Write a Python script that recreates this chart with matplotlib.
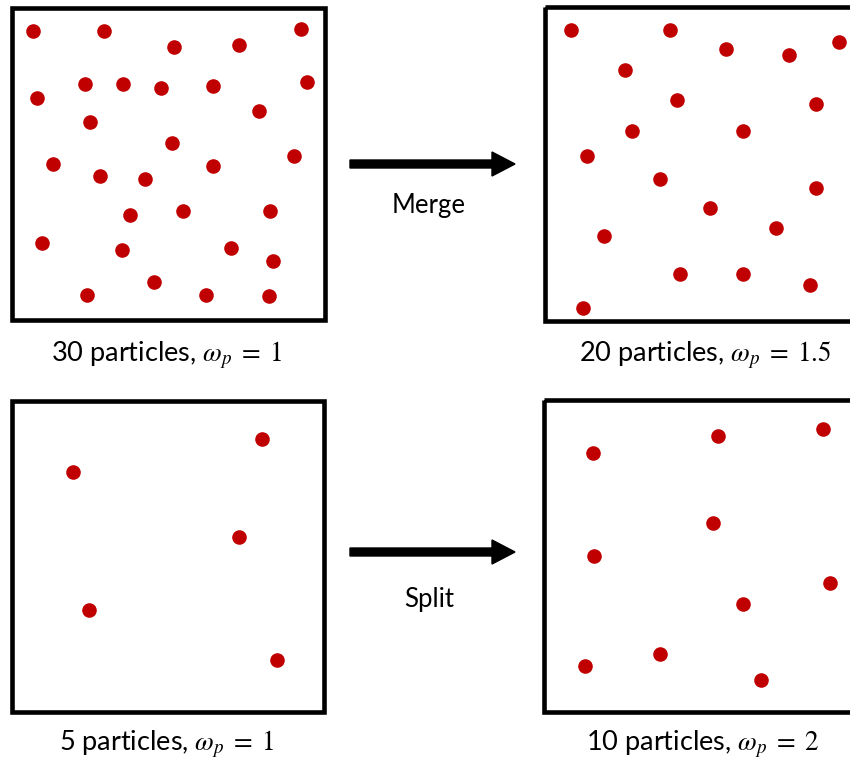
import matplotlib
matplotlib.use('Agg')
import matplotlib.pyplot as plt
from matplotlib.patches import Rectangle

# ── 입자 위치 (픽셀 좌표, y는 아래 방향) ───────────────────
MERGE_BEFORE_X = [32.7, 104, 174, 239, 301, 84.7, 122.7, 160.7, 213, 307,
                  37.3, 258.7, 90, 172.3, 52.7, 293.7, 100, 144.7, 213.3, 130.3,
                  182.7, 270.3, 42.3, 122.3, 231.3, 273, 153.7, 87.3, 206.3, 269]
MERGE_BEFORE_Y = [31, 31, 46.7, 44.7, 28.7, 84, 84, 88, 85.7, 81.7,
                  98, 111, 121.7, 143, 164, 156, 176.3, 178.7, 166, 214.7,
                  210.7, 210.7, 243, 249.7, 248, 260.7, 282, 295.3, 294.7, 296.3]

MERGE_AFTER_X = [571, 669.7, 726.3, 788.7, 839, 625.3, 677, 816.3, 632, 743,
                 587.3, 659.7, 816.3, 709.7, 776.3, 604, 679.7, 743, 809.7, 582.7]
MERGE_AFTER_Y = [30, 30, 49.3, 55, 42.3, 70.3, 100.3, 103.7, 131.3, 131.3,
                 156, 178.7, 188, 208.3, 228, 236, 273.7, 273.7, 284.7, 308]

SPLIT_BEFORE_X = [262, 73.3, 238.7, 89.3, 277]
SPLIT_BEFORE_Y = [439, 471.7, 536.7, 610.3, 660.3]

SPLIT_AFTER_X = [593, 718, 823, 713, 594.3, 829.7, 743, 659.7, 584.7, 761.3]
SPLIT_AFTER_Y = [453, 435.7, 429, 523, 556, 583.3, 603.7, 653.7, 666.3, 680.3]

LABELS = ['30 particles, $\\omega_p\\;=\\;1$', '20 particles, $\\omega_p\\;=\\;1.5$',
          '5 particles, $\\omega_p\\;=\\;1$', '10 particles, $\\omega_p\\;=\\;2$']
ACTIONS = ['Merge', 'Split']

# ── 스타일 ─────────────────────────────────────────────────
DOT_COLOR = '#C00000'
plt.rcParams['font.family'] = ['Lato', 'DejaVu Sans']
plt.rcParams['mathtext.fontset'] = 'stix'

fig = plt.figure(figsize=(8.5, 7.62), dpi=100)
ax = fig.add_axes([0, 0, 1, 1])
ax.set_xlim(0, 850)
ax.set_ylim(762, 0)
ax.axis('off')

# 상자: (x0, y0, x1, y1)
boxes = [(12.5, 7.7, 325, 320), (544.7, 7.2, 870, 320.8),
         (12.2, 400.5, 324.5, 712.2), (544.3, 399.8, 870, 712)]
for x0, y0, x1, y1 in boxes:
    ax.add_patch(Rectangle((x0, y0), x1 - x0, y1 - y0, fill=False,
                           edgecolor='black', linewidth=3.3, zorder=1))

for xs, ys in [(MERGE_BEFORE_X, MERGE_BEFORE_Y), (MERGE_AFTER_X, MERGE_AFTER_Y),
               (SPLIT_BEFORE_X, SPLIT_BEFORE_Y), (SPLIT_AFTER_X, SPLIT_AFTER_Y)]:
    ax.plot(xs, ys, 'o', color=DOT_COLOR, markersize=10.5,
            markeredgewidth=0, zorder=2)

# 라벨
label_pos = [(167, 355), (705, 355), (167, 744), (703, 744)]
for (x, y), txt in zip(label_pos, LABELS):
    ax.text(x, y, txt, ha='center', va='center', fontsize=19.5)

# 화살표
arrow_y  = [164, 552]
action_y = [206, 600]
for ay, ty, name in zip(arrow_y, action_y, ACTIONS):
    ax.arrow(350, ay, 165, 0, width=8, head_width=24, head_length=23,
             length_includes_head=True, color='black')
    ax.text(429, ty, name, ha='center', va='center', fontsize=18.5)

fig.savefig('out.png', dpi=100)
